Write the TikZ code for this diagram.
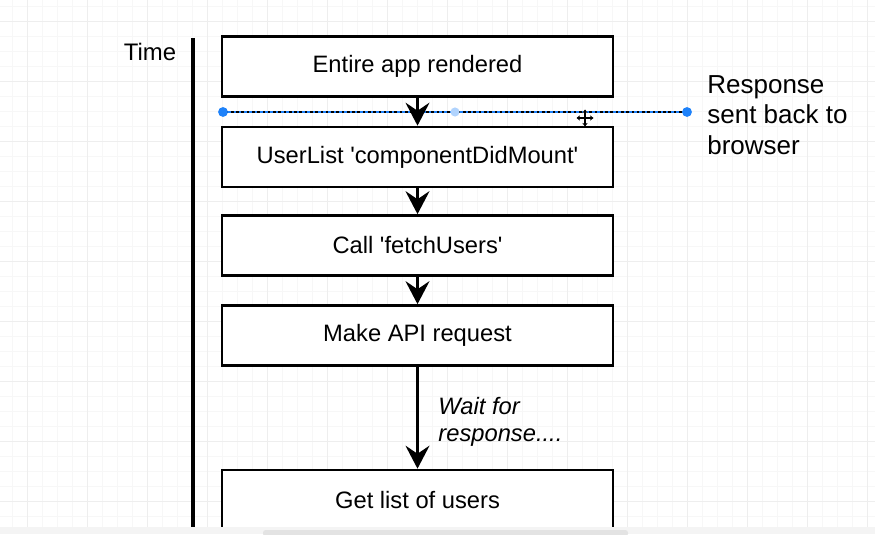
\documentclass[tikz,border=0pt]{standalone}
\usepackage{fontspec}
\setmainfont{Liberation Sans}
\usetikzlibrary{arrows.meta}
\definecolor{selblue}{RGB}{30,130,250}
\tikzset{
  stepbox/.style={draw, line width=1.5pt, fill=white, minimum width=7.82cm,
    minimum height=1.2cm, font=\fontsize{13.5}{17.3}\selectfont},
  flow/.style={line width=2.2pt, -{Stealth[length=13pt,width=13.5pt,inset=4.5pt]}},
  note/.style={inner sep=0pt, align=left, font=\fontsize{14.8}{17.4}\selectfont}
}
\begin{document}
\begin{tikzpicture}
  \useasboundingbox (0,0) rectangle (17.5,10.68);
  % background grid
  \draw[gray!6, line width=0.3pt, shift={(0.24,0.06)}, step=0.3] (-0.24,-0.06) grid (17.26,10.62);
  \draw[gray!13, line width=0.5pt, shift={(0.54,0.66)}, step=1.2] (-0.54,-0.66) grid (16.96,10.02);
  % time axis
  \draw[line width=2.3pt] (3.86,9.92) -- (3.86,0);
  \node (time) at (3.0,9.64) {\fontsize{13.6}{16}\selectfont Time};
  % the steps
  \node[stepbox] (app) at (8.35,9.35) {Entire app rendered};
  \node[stepbox] (mount) at (8.35,7.54) {UserList \textquotesingle componentDidMount\textquotesingle};
  \node[stepbox] (fetch) at (8.35,5.77) {Call \textquotesingle fetchUsers\textquotesingle};
  \node[stepbox] (api) at (8.35,3.97) {Make API request};
  \node[stepbox] (list) at (8.35,0.68) {Get list of users};
  % selected line: response sent back
  \coordinate (sentL) at (4.46,8.44);
  \coordinate (sentR) at (13.74,8.44);
  \draw[line width=1.7pt] (sentL) -- (sentR);
  \draw[selblue, line width=0.6pt, dash pattern=on 1.5pt off 1.5pt] (sentL) -- (sentR);
  \fill[selblue!35] (9.1,8.44) circle(2.6pt);
  \fill[selblue] (sentL) circle(2.8pt) (sentR) circle(2.8pt);
  \node[note, anchor=north west] (resp) at (14.14,9.18) {Response\\sent back to\\browser};
  % arrows
  \draw[flow] (app.south) -- (mount.north);
  \draw[flow] (mount.south) -- (fetch.north);
  \draw[flow] (fetch.south) -- (api.north);
  \draw[flow] (api.south) -- (list.north) node[note, pos=0.28, anchor=north west, xshift=0.38cm, font=\fontsize{13.5}{15.6}\selectfont\itshape] (wait) {Wait for\\response....};
  % move cursor
  \begin{scope}[shift={(11.7,8.32)}]
    \draw[white, line width=1.8pt] (-0.17,0) -- (0.17,0) (0,-0.17) -- (0,0.17);
    \draw[line width=0.7pt, {Stealth[length=2pt,width=3pt]}-{Stealth[length=2pt,width=3pt]}] (-0.17,0) -- (0.17,0);
    \draw[line width=0.7pt, {Stealth[length=2pt,width=3pt]}-{Stealth[length=2pt,width=3pt]}] (0,-0.17) -- (0,0.17);
  \end{scope}
  % scrollbar
  \fill[gray!9] (0,0) rectangle (17.5,0.14);
  \fill[gray!22, rounded corners=1.5pt] (5.26,-0.05) rectangle (12.56,0.08);
\end{tikzpicture}
\end{document}
